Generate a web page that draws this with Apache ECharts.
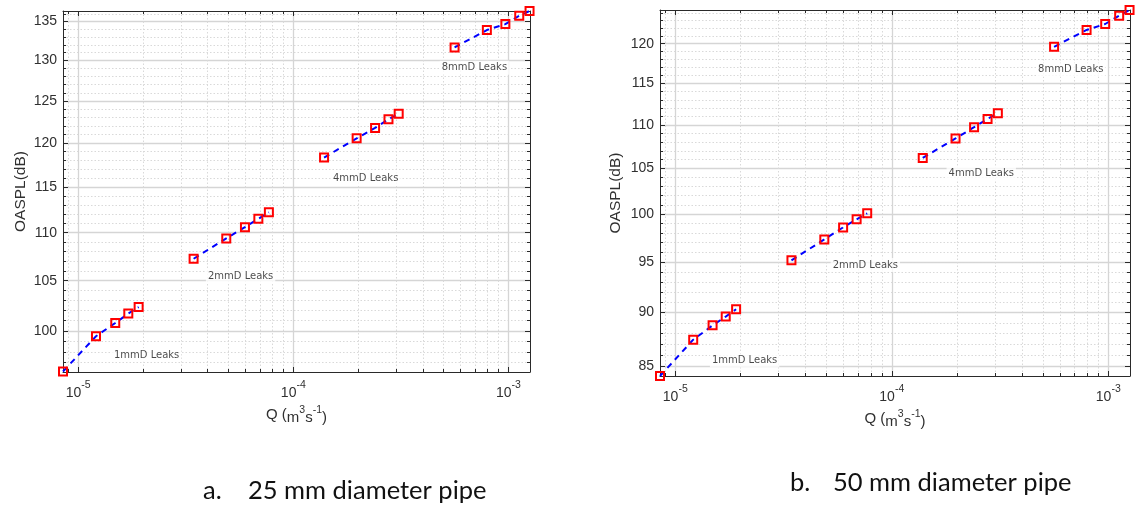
<!DOCTYPE html>
<html>
<head>
<meta charset="utf-8">
<script src="https://cdn.jsdelivr.net/npm/echarts@6/dist/echarts.min.js"></script>
<style>
  html, body { margin: 0; padding: 0; background: #ffffff; }
  #chart { width: 1140px; height: 508px; }
</style>
</head>
<body>
<div id="chart"></div>
<script>
// Leak groups and the volumetric flow rates Q (m^3 s^-1) of each group
const leakGroups = ['1mmD Leaks', '2mmD Leaks', '4mmD Leaks', '8mmD Leaks'];
const flow1mm = [8.5e-6, 1.21e-5, 1.487e-5, 1.71e-5, 1.91e-5];
const flow2mm = [3.44e-5, 4.88e-5, 5.96e-5, 6.88e-5, 7.70e-5];
const flow4mm = [1.39e-4, 1.97e-4, 2.40e-4, 2.77e-4, 3.09e-4];
const flow8mm = [5.62e-4, 7.94e-4, 9.68e-4, 1.123e-3, 1.254e-3];

// OASPL (dB) measured on the 25 mm pipe
const spl25_1mm = [96.15, 99.49, 100.78, 101.70, 102.35];
const spl25_2mm = [107.26, 109.40, 110.60, 111.50, 112.20];
const spl25_4mm = [118.32, 120.55, 121.77, 122.79, 123.47];
const spl25_8mm = [131.66, 133.90, 134.68, 135.77, 136.40];

// OASPL (dB) measured on the 50 mm pipe
const spl50_1mm = [84.10, 87.43, 88.78, 89.62, 90.32];
const spl50_2mm = [95.18, 97.33, 98.59, 99.44, 100.08];
const spl50_4mm = [106.20, 108.43, 109.74, 110.72, 111.40];
const spl50_8mm = [119.60, 121.77, 122.55, 123.65, 124.40];

// Axis limits and labelled ticks
const qRange = [8.5e-6, 1.26e-3];
const splRange25 = [96.1, 136.4];
const splRange50 = [84.1, 124.4];
const qTicks = [1e-5, 1e-4, 1e-3];
const splTicks25 = [100, 105, 110, 115, 120, 125, 130, 135];
const splTicks50 = [85, 90, 95, 100, 105, 110, 115, 120];

// Where each group's text label sits (data coordinates)
const notes25 = [[2.08e-5, 97.7], [5.69e-5, 105.4], [2.17e-4, 115.9], [6.95e-4, 129.1]];
const notes50 = [[2.09e-5, 85.5], [7.55e-5, 94.7], [2.59e-4, 104.5], [6.71e-4, 116.7]];

const captions = [
  { tag: 'a.', text: '25 mm diameter pipe' },
  { tag: 'b.', text: '50 mm diameter pipe' }
];

// ---------- helpers ----------
const INK = '#2a2a2a';
const LABEL = '#303030';
const MAJOR_GRID = { color: '#d5d5d5', width: 1.3, type: 'solid' };
const MINOR_GRID = { color: '#d9d9d9', width: 1, type: [1.5, 2] };

// 2..9 multiples of every decade inside the range
function logMinorValues(range) {
  const out = [];
  for (let e = -7; e <= -2; e++) {
    for (let m = 2; m <= 9; m++) {
      const v = m * Math.pow(10, e);
      if (v > range[0] && v < range[1]) out.push(v);
    }
  }
  return out;
}
// whole-dB steps that are not labelled
function dbMinorValues(range) {
  const out = [];
  for (let v = Math.ceil(range[0]); v <= Math.floor(range[1]); v++) {
    if (v % 5 !== 0) out.push(v);
  }
  return out;
}

function axis(grid, position, range, values, o) {
  return {
    type: 'log',
    logBase: 10,
    gridIndex: grid,
    position: position,
    min: range[0],
    max: range[1],
    silent: true,
    axisLine: { show: !!o.line, onZero: false, lineStyle: { color: INK, width: 1 } },
    axisTick: { show: true, inside: true, length: o.tick, customValues: values,
                lineStyle: { color: INK, width: 1 } },
    axisLabel: o.label ? Object.assign({ customValues: values }, o.label) : { show: false },
    splitLine: o.split ? { show: true, lineStyle: o.split } : { show: false },
    minorTick: { show: false },
    minorSplitLine: { show: false },
    name: o.name || '',
    nameLocation: 'middle',
    nameGap: o.nameGap || 0,
    nameRotate: o.nameRotate || 0,
    nameTextStyle: o.nameStyle || {}
  };
}

const qLabel = {
  show: true,
  margin: 8,
  formatter: v => '{b|10}{s|' + Math.round(Math.log10(v)) + '}',
  rich: {
    b: { fontFamily: 'Liberation Sans', fontSize: 14, color: LABEL, lineHeight: 20, verticalAlign: 'bottom' },
    s: { fontFamily: 'Liberation Sans', fontSize: 10.5, color: LABEL, lineHeight: 12, verticalAlign: 'top' }
  }
};
const splLabel = {
  show: true,
  margin: 6,
  fontFamily: 'Liberation Sans',
  fontSize: 14,
  color: LABEL
};
const qName = 'Q ({b|m}{s|3}{b|s}{s|-1}{b|)}';
const qNameStyle = {
  rich: {
    b: { fontFamily: 'Liberation Sans', fontSize: 15, color: LABEL, lineHeight: 20, verticalAlign: 'bottom' },
    s: { fontFamily: 'Liberation Sans', fontSize: 10.5, color: LABEL, lineHeight: 12, verticalAlign: 'top' }
  },
  fontFamily: 'Liberation Sans', fontSize: 15, color: LABEL, lineHeight: 20, verticalAlign: 'bottom'
};
const splNameStyle = { fontFamily: 'Liberation Sans', fontSize: 15.5, color: LABEL };

const grids = [
  { left: 63, top: 11, width: 467, height: 361 },
  { left: 660, top: 10, width: 470, height: 366 }
];

const xAxes = [];
const yAxes = [];
const series = [];

function buildPanel(g, splRange, splTicks, groups, notes, yNameGap) {
  const qMinor = logMinorValues(qRange);
  const splMinor = dbMinorValues(splRange);
  const xi = xAxes.length;
  const yi = yAxes.length;
  // bottom: minor ticks + dotted grid, then decades + solid grid + labels
  xAxes.push(axis(g, 'bottom', qRange, qMinor, { line: true, tick: 3, split: MINOR_GRID }));
  xAxes.push(axis(g, 'bottom', qRange, qTicks, { tick: 5, split: MAJOR_GRID, label: qLabel,
    name: qName, nameGap: 33, nameStyle: qNameStyle }));
  // top edge of the box
  xAxes.push(axis(g, 'top', qRange, qMinor, { line: true, tick: 3 }));
  xAxes.push(axis(g, 'top', qRange, qTicks, { tick: 5 }));
  // left: minor dB steps + dotted grid, then labelled 5 dB steps
  yAxes.push(axis(g, 'left', splRange, splMinor, { line: true, tick: 3, split: MINOR_GRID }));
  yAxes.push(axis(g, 'left', splRange, splTicks, { tick: 5, split: MAJOR_GRID, label: splLabel,
    name: 'OASPL(dB)', nameGap: yNameGap, nameRotate: 90, nameStyle: splNameStyle }));
  // right edge of the box
  yAxes.push(axis(g, 'right', splRange, splMinor, { line: true, tick: 3 }));
  yAxes.push(axis(g, 'right', splRange, splTicks, { tick: 5 }));

  const flows = [flow1mm, flow2mm, flow4mm, flow8mm];
  groups.forEach((spl, k) => {
    series.push({
      type: 'line',
      name: leakGroups[k],
      xAxisIndex: xi + 1,
      yAxisIndex: yi + 1,
      data: flows[k].map((q, i) => [q, spl[i]]),
      clip: false,
      z: 4,
      symbol: 'rect',
      symbolSize: 8,
      showSymbol: true,
      itemStyle: { color: 'rgba(0,0,0,0)', borderColor: '#ff0000', borderWidth: 2 },
      lineStyle: { color: '#0000ff', width: 2, type: [6, 5] },
      emphasis: { disabled: true },
      silent: true
    });
  });

  series.push({
    type: 'scatter',
    xAxisIndex: xi + 1,
    yAxisIndex: yi + 1,
    z: 3,
    symbolSize: 1,
    silent: true,
    itemStyle: { color: 'rgba(0,0,0,0)' },
    label: {
      show: true,
      position: 'inside',
      formatter: '{b}',
      fontFamily: 'DejaVu Sans',
      fontSize: 10,
      color: '#1a1a1a',
      backgroundColor: '#ffffff',
      padding: [3, 2, 1, 2]
    },
    data: notes.map((p, k) => ({ name: leakGroups[k], value: p }))
  });
}

buildPanel(0, splRange25, splTicks25, [spl25_1mm, spl25_2mm, spl25_4mm, spl25_8mm], notes25, 34);
buildPanel(1, splRange50, splTicks50, [spl50_1mm, spl50_2mm, spl50_4mm, spl50_8mm], notes50, 36);

const captionStyle = { fontFamily: 'Lato', fontSize: 25.5, fill: '#111111', verticalAlign: 'middle' };
const graphic = [
  { type: 'text', left: 203, top: 478, style: Object.assign({ text: captions[0].tag }, captionStyle) },
  { type: 'text', left: 248, top: 478, style: Object.assign({ text: captions[0].text }, captionStyle) },
  { type: 'text', left: 790, top: 470, style: Object.assign({ text: captions[1].tag }, captionStyle) },
  { type: 'text', left: 833, top: 470, style: Object.assign({ text: captions[1].text }, captionStyle) }
];

const chart = echarts.init(document.getElementById('chart'), null, { renderer: 'canvas' });
chart.setOption({
  animation: false,
  backgroundColor: '#ffffff',
  grid: grids.map(g => Object.assign({ containLabel: false, outerBoundsMode: 'none' }, g)),
  xAxis: xAxes,
  yAxis: yAxes,
  series: series,
  graphic: graphic
});
</script>
</body>
</html>
